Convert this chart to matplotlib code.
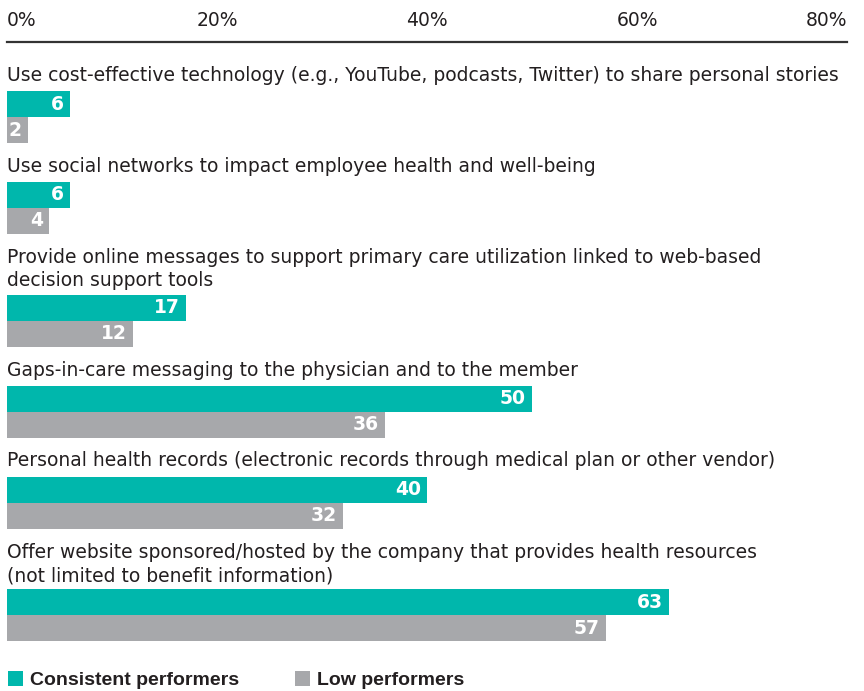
import matplotlib
matplotlib.use('Agg')
import matplotlib.pyplot as plt
from matplotlib.patches import Patch

plt.rcParams['font.family'] = ['DejaVu Sans']

categories = [
    "Use cost-effective technology (e.g., YouTube, podcasts, Twitter) to share personal stories",
    "Use social networks to impact employee health and well-being",
    "Provide online messages to support primary care utilization linked to web-based\ndecision support tools",
    "Gaps-in-care messaging to the physician and to the member",
    "Personal health records (electronic records through medical plan or other vendor)",
    "Offer website sponsored/hosted by the company that provides health resources\n(not limited to benefit information)",
]
consistent = [6, 6, 17, 50, 40, 63]
low = [2, 4, 12, 36, 32, 57]
series_names = ["Consistent performers", "Low performers"]
xticks = [0, 20, 40, 60, 80]
xtick_labels = ["0%", "20%", "40%", "60%", "80%"]

TEAL = '#00b7ac'
GREY = '#a7a8ab'
TXT = '#231f20'

W, H = 864, 691
fig = plt.figure(figsize=(W / 100, H / 100), dpi=100)
# axes: x 0..80 spans px 7..847, y in pixels measured down from the axis line
top_px = 42
ax = fig.add_axes([7 / W, 0, 840 / W, (H - top_px) / H])
ax.set_xlim(0, 80)
ax.set_ylim(H - top_px, 0)

bar_h = 26
line_h = 23.5
y = 81 - top_px  # baseline of the first label line
for cat, c, l in zip(categories, consistent, low):
    lines = cat.split('\n')
    for i, ln in enumerate(lines):
        ax.text(0, y + i * line_h, ln, fontsize=13.5, color=TXT, va='baseline', ha='left')
    last = y + (len(lines) - 1) * line_h
    bar_top = last + (10 if len(lines) == 1 else 8)
    for k, (v, col) in enumerate([(c, TEAL), (l, GREY)]):
        t = bar_top + k * bar_h
        ax.barh(t, v, height=bar_h, align='edge', color=col, linewidth=0)
        ax.annotate(str(v), (v, t + bar_h / 2), xytext=(-6, 0), textcoords='offset pixels',
                    ha='right', va='center', fontsize=13.5, fontweight='bold', color='white')
    y = bar_top + 2 * bar_h + 29

ax.xaxis.tick_top()
ax.set_xticks(xticks)
ax.set_xticklabels(xtick_labels, fontsize=13.5, color=TXT)
ax.tick_params(axis='x', length=0, pad=9)
tl = ax.get_xticklabels()
tl[0].set_ha('left')
tl[-1].set_ha('right')
ax.set_yticks([])
for s in ['right', 'left', 'bottom']:
    ax.spines[s].set_visible(False)
ax.spines['top'].set_color('#333333')
ax.spines['top'].set_linewidth(1.6)

handles = [Patch(facecolor=TEAL, edgecolor='none'), Patch(facecolor=GREY, edgecolor='none')]
leg = fig.legend(handles, series_names, loc='lower left', bbox_to_anchor=(2 / W, -0.006),
                 ncol=2, frameon=False, handlelength=0.8, handleheight=0.8,
                 handletextpad=0.35, columnspacing=2.85, borderaxespad=0.2,
                 prop={'family': 'Liberation Sans', 'size': 14, 'weight': 'bold'}, borderpad=0.1)
for t in leg.get_texts():
    t.set_color(TXT)

fig.savefig('out.png', dpi=100)
